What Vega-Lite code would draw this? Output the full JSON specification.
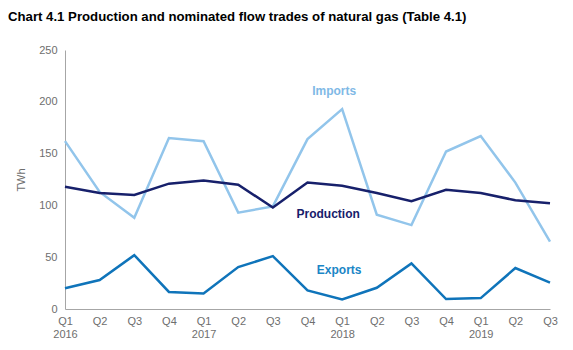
{
  "$schema": "https://vega.github.io/schema/vega-lite/v6.json",
  "autosize": "none",
  "width": 485,
  "height": 259,
  "padding": {"left": 65, "top": 50, "right": 23, "bottom": 41},
  "background": "white",
  "title": {
    "text": "Chart 4.1 Production and nominated flow trades of natural gas (Table 4.1)",
    "anchor": "start",
    "frame": "group",
    "dx": -57,
    "offset": 20,
    "font": "Liberation Sans",
    "fontSize": 13.2,
    "fontWeight": "bold",
    "color": "#000000"
  },
  "config": {
    "view": {"stroke": null},
    "axis": {
      "labelFont": "Liberation Sans",
      "labelFontSize": 11,
      "labelColor": "#6e6e6e",
      "domainColor": "#a6a6a6",
      "ticks": false,
      "grid": false,
      "titleFont": "Liberation Sans",
      "titleFontSize": 11,
      "titleColor": "#6e6e6e",
      "titleFontWeight": "normal"
    }
  },
  "datasets": {
    "series": [
      {"quarter": "2016 Q1", "series": "Imports", "value": 162},
      {"quarter": "2016 Q2", "series": "Imports", "value": 113},
      {"quarter": "2016 Q3", "series": "Imports", "value": 88},
      {"quarter": "2016 Q4", "series": "Imports", "value": 165},
      {"quarter": "2017 Q1", "series": "Imports", "value": 162},
      {"quarter": "2017 Q2", "series": "Imports", "value": 93},
      {"quarter": "2017 Q3", "series": "Imports", "value": 99},
      {"quarter": "2017 Q4", "series": "Imports", "value": 164},
      {"quarter": "2018 Q1", "series": "Imports", "value": 193},
      {"quarter": "2018 Q2", "series": "Imports", "value": 91},
      {"quarter": "2018 Q3", "series": "Imports", "value": 81},
      {"quarter": "2018 Q4", "series": "Imports", "value": 152},
      {"quarter": "2019 Q1", "series": "Imports", "value": 167},
      {"quarter": "2019 Q2", "series": "Imports", "value": 122},
      {"quarter": "2019 Q3", "series": "Imports", "value": 65},
      {"quarter": "2016 Q1", "series": "Production", "value": 118},
      {"quarter": "2016 Q2", "series": "Production", "value": 112},
      {"quarter": "2016 Q3", "series": "Production", "value": 110},
      {"quarter": "2016 Q4", "series": "Production", "value": 121},
      {"quarter": "2017 Q1", "series": "Production", "value": 124},
      {"quarter": "2017 Q2", "series": "Production", "value": 120},
      {"quarter": "2017 Q3", "series": "Production", "value": 98},
      {"quarter": "2017 Q4", "series": "Production", "value": 122},
      {"quarter": "2018 Q1", "series": "Production", "value": 119},
      {"quarter": "2018 Q2", "series": "Production", "value": 112},
      {"quarter": "2018 Q3", "series": "Production", "value": 104},
      {"quarter": "2018 Q4", "series": "Production", "value": 115},
      {"quarter": "2019 Q1", "series": "Production", "value": 112},
      {"quarter": "2019 Q2", "series": "Production", "value": 105},
      {"quarter": "2019 Q3", "series": "Production", "value": 102},
      {"quarter": "2016 Q1", "series": "Exports", "value": 20},
      {"quarter": "2016 Q2", "series": "Exports", "value": 28},
      {"quarter": "2016 Q3", "series": "Exports", "value": 52},
      {"quarter": "2016 Q4", "series": "Exports", "value": 16.5},
      {"quarter": "2017 Q1", "series": "Exports", "value": 15},
      {"quarter": "2017 Q2", "series": "Exports", "value": 40.5},
      {"quarter": "2017 Q3", "series": "Exports", "value": 51},
      {"quarter": "2017 Q4", "series": "Exports", "value": 18},
      {"quarter": "2018 Q1", "series": "Exports", "value": 9.3},
      {"quarter": "2018 Q2", "series": "Exports", "value": 20.5},
      {"quarter": "2018 Q3", "series": "Exports", "value": 44},
      {"quarter": "2018 Q4", "series": "Exports", "value": 9.6},
      {"quarter": "2019 Q1", "series": "Exports", "value": 10.5},
      {"quarter": "2019 Q2", "series": "Exports", "value": 39.5},
      {"quarter": "2019 Q3", "series": "Exports", "value": 25.4}
    ],
    "labels": [
      {"quarter": "2018 Q1", "series": "Imports", "value": 210},
      {"quarter": "2018 Q1", "series": "Production", "value": 92},
      {"quarter": "2018 Q1", "series": "Exports", "value": 37.5}
    ]
  },
  "layer": [
    {
      "data": {"name": "series"},
      "mark": {"type": "line", "strokeWidth": 2.5},
      "encoding": {
        "x": {
          "field": "quarter",
          "type": "ordinal",
          "sort": null,
          "scale": {"type": "point", "padding": 0},
          "axis": {
            "title": null,
            "labelAngle": 0,
            "labelPadding": 6,
            "labelExpr": "slice(datum.value, 5) == 'Q1' ? ['Q1', slice(datum.value, 0, 4)] : slice(datum.value, 5)"
          }
        },
        "y": {
          "field": "value",
          "type": "quantitative",
          "scale": {"domain": [0, 250], "nice": false},
          "axis": {"title": "TWh", "values": [0, 50, 100, 150, 200, 250], "labelPadding": 8, "titlePadding": 12}
        },
        "color": {
          "field": "series",
          "type": "nominal",
          "scale": {"domain": ["Imports", "Production", "Exports"], "range": ["#92c5eb", "#17206b", "#0f74ba"]},
          "legend": null
        },
        "detail": {"field": "series"}
      }
    },
    {
      "data": {"name": "labels"},
      "transform": [{"filter": "datum.series == 'Imports'"}],
      "mark": {"type": "text", "font": "Liberation Sans", "fontSize": 12, "fontWeight": "bold", "align": "center", "baseline": "middle", "dx": -8, "color": "#7fb9e6"},
      "encoding": {
        "x": {"field": "quarter", "type": "ordinal", "sort": null},
        "y": {"field": "value", "type": "quantitative"},
        "text": {"field": "series"}
      }
    },
    {
      "data": {"name": "labels"},
      "transform": [{"filter": "datum.series == 'Production'"}],
      "mark": {"type": "text", "font": "Liberation Sans", "fontSize": 12, "fontWeight": "bold", "align": "center", "baseline": "middle", "dx": -14, "color": "#17206b"},
      "encoding": {
        "x": {"field": "quarter", "type": "ordinal", "sort": null},
        "y": {"field": "value", "type": "quantitative"},
        "text": {"field": "series"}
      }
    },
    {
      "data": {"name": "labels"},
      "transform": [{"filter": "datum.series == 'Exports'"}],
      "mark": {"type": "text", "font": "Liberation Sans", "fontSize": 12, "fontWeight": "bold", "align": "center", "baseline": "middle", "dx": -3, "color": "#1a86c6"},
      "encoding": {
        "x": {"field": "quarter", "type": "ordinal", "sort": null},
        "y": {"field": "value", "type": "quantitative"},
        "text": {"field": "series"}
      }
    }
  ]
}
